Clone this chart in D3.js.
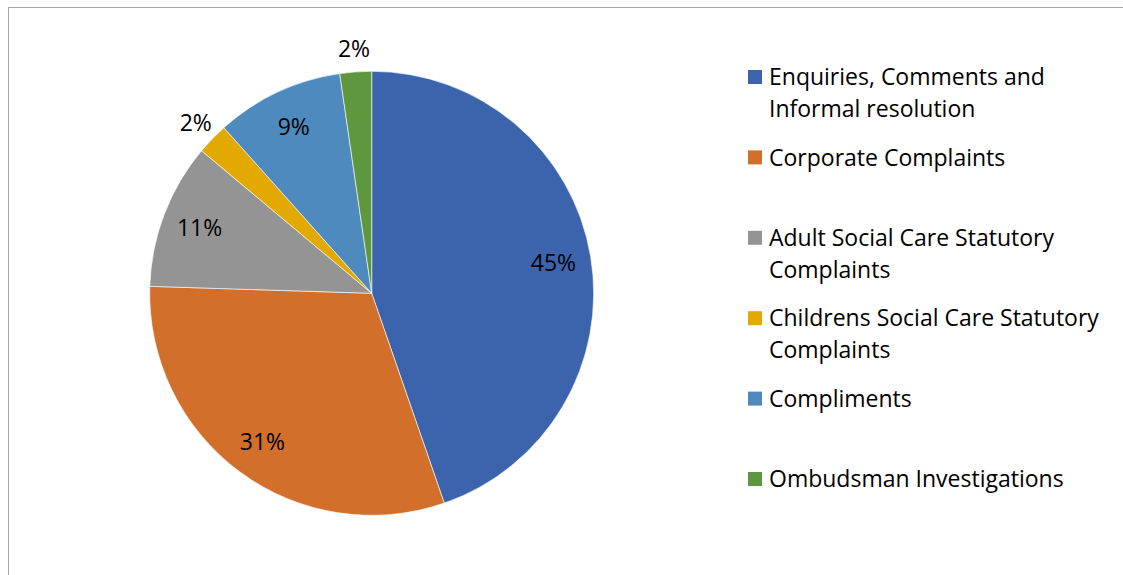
<!DOCTYPE html>
<html>
<head>
<meta charset="utf-8">
<script src="https://cdn.jsdelivr.net/npm/d3@7"></script>
<style>
  html, body { margin: 0; padding: 0; background: #fff; }
  svg { display: block; font-family: "Open Sans", Lato, sans-serif; }
</style>
</head>
<body>
<svg id="chart" width="1123" height="575"></svg>
<script>
const categories = [
  "Enquiries, Comments and Informal resolution",
  "Corporate Complaints",
  "Adult Social Care Statutory Complaints",
  "Childrens Social Care Statutory Complaints",
  "Compliments",
  "Ombudsman Investigations"
];
const values = [44.7, 30.8, 10.6, 2.3, 9.3, 2.3];
const colors = ["#3B64AD", "#D26F2B", "#949494", "#E2AA00", "#4E8ABE", "#5F973E"];

const svg = d3.select("#chart");
const W = 1123, H = 575;

// outer frame
svg.append("rect")
  .attr("x", 8.5).attr("y", 7.5)
  .attr("width", W + 20).attr("height", H + 20)
  .attr("fill", "none").attr("stroke", "#A6A6A6").attr("stroke-width", 1);

const cx = 371.7, cy = 293.3, r = 222;
const data = categories.map((c, i) => ({ name: c, value: values[i], color: colors[i] }));
const total = d3.sum(values);

const pie = d3.pie().sort(null).value(d => d.value);
const arcs = pie(data);
const arc = d3.arc().innerRadius(0).outerRadius(r);

const g = svg.append("g").attr("transform", `translate(${cx},${cy})`);
g.selectAll("path.slice").data(arcs).join("path")
  .attr("class", "slice")
  .attr("d", arc)
  .attr("fill", d => d.data.color)
  .attr("stroke", "#ffffff")
  .attr("stroke-width", 0.6)
  .attr("stroke-linejoin", "round");

const fmt = d3.format(".0%");
const insideArc = d3.arc().innerRadius(r * 0.83).outerRadius(r * 0.83);
const outsideArc = d3.arc().innerRadius(r + 23).outerRadius(r + 23);

g.selectAll("text.lbl").data(arcs).join("text")
  .attr("class", "lbl")
  .attr("transform", d => {
    const share = d.data.value / total;
    const p = (share < 0.05 ? outsideArc : insideArc).centroid(d);
    return `translate(${p[0]},${p[1]})`;
  })
  .attr("text-anchor", "middle")
  .attr("dy", "0.36em")
  .attr("font-size", 23)
  .attr("fill", "#000")
  .text(d => fmt(d.data.value / total));

// legend
const legX = 748, legTextX = 769, legY0 = 77, legStep = 80.4, lineH = 32, maxW = 345;
const leg = svg.append("g");
data.forEach((d, i) => {
  const y = legY0 + i * legStep;
  leg.append("rect")
    .attr("x", legX).attr("y", y - 7)
    .attr("width", 14).attr("height", 14)
    .attr("fill", d.color);
  const t = leg.append("text")
    .attr("font-size", 23)
    .attr("fill", "#000");
  const words = d.name.split(" ");
  let line = [];
  let lineNo = 0;
  let ts = t.append("tspan").attr("x", legTextX).attr("y", y).attr("dy", "0.36em");
  words.forEach(w => {
    line.push(w);
    ts.text(line.join(" "));
    if (ts.node().getComputedTextLength() > maxW && line.length > 1) {
      line.pop();
      ts.text(line.join(" "));
      line = [w];
      lineNo++;
      ts = t.append("tspan").attr("x", legTextX).attr("y", y + lineNo * lineH).attr("dy", "0.36em").text(w);
    }
  });
});
</script>
</body>
</html>
